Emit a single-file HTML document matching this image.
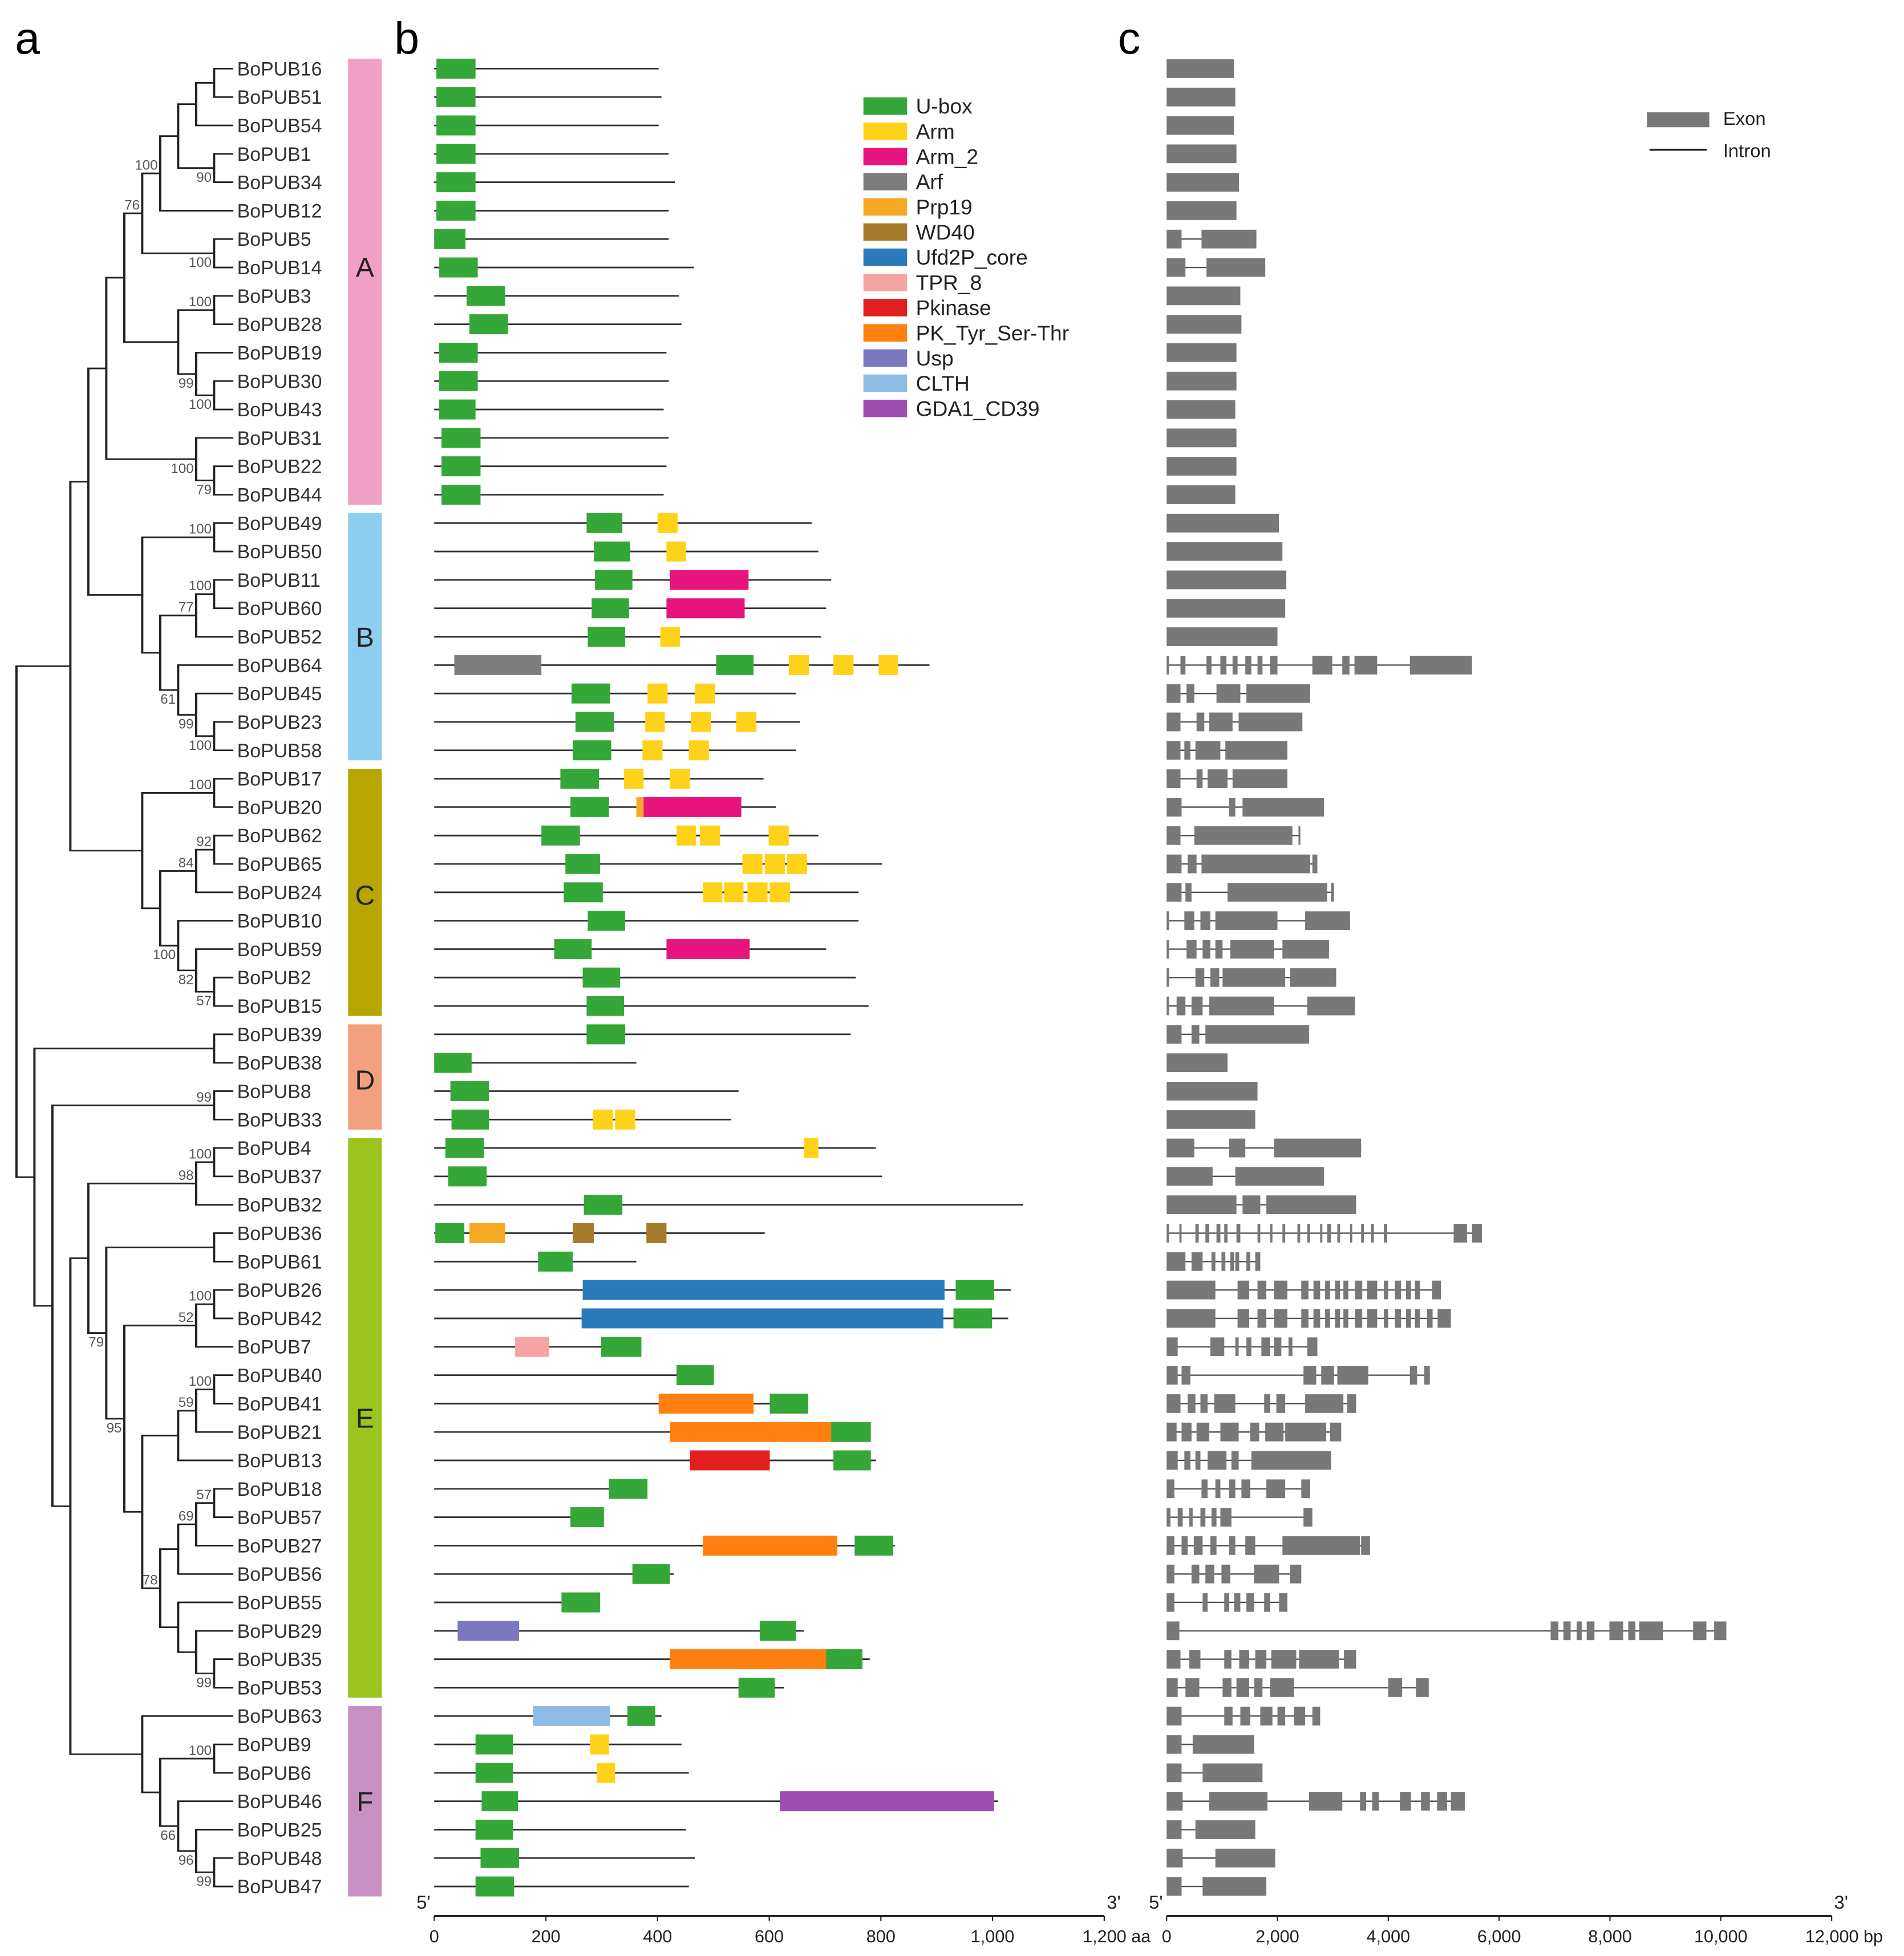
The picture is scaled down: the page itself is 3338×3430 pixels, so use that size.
<!DOCTYPE html>
<html><head><meta charset="utf-8"><style>
html,body{margin:0;padding:0;background:#fff}
svg{display:block}
text{font-family:"Liberation Sans",sans-serif}
</style></head><body>
<svg id="fig" width="3338" height="3430" viewBox="0 0 1526 1568" xmlns="http://www.w3.org/2000/svg">
<rect width="1526" height="1568" fill="#fff"/>
<text x="12" y="43" font-size="36">a</text>
<text x="316" y="43" font-size="36">b</text>
<text x="896" y="43" font-size="36">c</text>
<g id="tree"></g>
<g id="labels"></g>
<g id="groups"></g>
<g id="motifs"></g>
<g id="genes"></g>
<g id="legend"></g>
<g id="axes"></g>
</svg>
<script>
const geneNames=["BoPUB16","BoPUB51","BoPUB54","BoPUB1","BoPUB34","BoPUB12","BoPUB5","BoPUB14","BoPUB3","BoPUB28","BoPUB19","BoPUB30","BoPUB43","BoPUB31","BoPUB22","BoPUB44","BoPUB49","BoPUB50","BoPUB11","BoPUB60","BoPUB52","BoPUB64","BoPUB45","BoPUB23","BoPUB58","BoPUB17","BoPUB20","BoPUB62","BoPUB65","BoPUB24","BoPUB10","BoPUB59","BoPUB2","BoPUB15","BoPUB39","BoPUB38","BoPUB8","BoPUB33","BoPUB4","BoPUB37","BoPUB32","BoPUB36","BoPUB61","BoPUB26","BoPUB42","BoPUB7","BoPUB40","BoPUB41","BoPUB21","BoPUB13","BoPUB18","BoPUB57","BoPUB27","BoPUB56","BoPUB55","BoPUB29","BoPUB35","BoPUB53","BoPUB63","BoPUB9","BoPUB6","BoPUB46","BoPUB25","BoPUB48","BoPUB47"];
const groupNames=["A","B","C","D","E","F"];
const groupStart=[0,16,25,34,38,58];
const groupEnd=[15,24,33,37,57,64];
const groupLabelOffset=[-12,0,2,2,0,0];
const groupColors=["#f0a0c4","#8ccdf0","#b8a600","#f2a080","#9bc41f","#c78fc2"];
const proteinLen=[402,407,402,420,431,420,420,465,438,443,416,420,411,420,416,411,676,688,711,702,693,887,648,655,648,590,612,688,802,760,760,702,755,778,746,362,545,532,791,802,1055,592,362,1033,1028,371,501,670,782,791,380,304,825,429,295,662,780,626,407,443,456,1010,451,467,456];
const domains=[
[["U",4,74]],[["U",4,74]],[["U",4,74]],[["U",4,74]],[["U",4,74]],[["U",4,74]],[["U",0,56]],[["U",9,78]],[["U",58,127]],[["U",63,132]],[["U",9,78]],[["U",9,78]],[["U",9,74]],[["U",13,83]],[["U",13,83]],[["U",13,83]],
[["U",273,337],["Arm",400,436]],
[["U",286,351],["Arm",416,451]],
[["U",288,355],["Arm_2",422,563]],
[["U",282,349],["Arm_2",416,556]],
[["U",275,342],["Arm",405,440]],
[["Arf",36,192],["U",505,572],["Arm",635,671],["Arm",715,751],["Arm",796,831]],
[["U",246,315],["Arm",382,418],["Arm",467,503]],
[["U",253,322],["Arm",378,413],["Arm",460,496],["Arm",541,577]],
[["U",248,317],["Arm",373,409],["Arm",456,492]],
[["U",226,295],["Arm",340,375],["Arm",422,458]],
[["U",244,313],["Prp19",362,375],["Arm_2",375,550]],
[["U",192,261],["Arm",434,469],["Arm",476,512],["Arm",599,635]],
[["U",235,297],["Arm",552,588],["Arm",592,628],["Arm",632,668]],
[["U",232,302],["Arm",481,516],["Arm",519,554],["Arm",561,597],["Arm",601,637]],
[["U",275,342]],
[["U",215,282],["Arm_2",416,565]],
[["U",266,333]],
[["U",273,340]],
[["U",273,342]],
[["U",0,67]],
[["U",29,98]],
[["U",31,98],["Arm",284,320],["Arm",324,360]],
[["U",20,89],["Arm",662,688]],
[["U",25,94]],
[["U",268,337]],
[["U",2,54],["Prp19",63,127],["WD40",248,286],["WD40",380,416]],
[["U",186,248]],
[["Ufd2P",266,914],["U",934,1003]],
[["Ufd2P",264,912],["U",930,999]],
[["TPR",145,206],["U",299,371]],
[["U",434,501]],
[["PK",402,572],["U",601,670]],
[["PK",422,742],["U",711,782]],
[["Pkinase",458,601],["U",715,782]],
[["U",313,382]],
[["U",244,304]],
[["PK",481,722],["U",753,822]],
[["U",355,422]],
[["U",228,297]],
[["Usp",42,152],["U",583,648]],
[["PK",422,733],["U",702,767]],
[["U",545,610]],
[["CLTH",177,315],["U",346,396]],
[["U",74,141],["Arm",279,313]],
[["U",74,141],["Arm",291,324]],
[["U",85,150],["GDA1",619,1003]],
[["U",74,141]],
[["U",83,152]],
[["U",74,143]]
];
const exons=[
[[0,1215]],[[0,1240]],[[0,1215]],[[0,1260]],[[0,1305]],[[0,1260]],[[0,270],[630,1620]],[[0,340],[720,1780]],[[0,1330]],[[0,1350]],[[0,1260]],[[0,1260]],[[0,1240]],[[0,1260]],[[0,1260]],[[0,1240]],
[[0,2025]],[[0,2090]],[[0,2160]],[[0,2140]],[[0,2000]],
[[0,45],[250,340],[720,810],[970,1080],[1190,1280],[1420,1530],[1640,1730],[1870,2000],[2630,2990],[3170,3300],[3390,3800],[4390,5510]],
[[0,250],[360,500],[900,1330],[1440,2590]],
[[0,250],[540,680],[770,1190],[1300,2450]],
[[0,250],[320,430],[520,970],[1060,2180]],
[[0,250],[540,650],[740,1100],[1190,2180]],
[[0,270],[1130,1240],[1370,2840]],
[[0,250],[500,2270],[2380,2400]],
[[0,270],[380,540],[630,2590],[2630,2720]],
[[0,270],[340,450],[1100,2900],[2970,3020]],
[[0,45],[320,500],[610,790],[880,2000],[2500,3310]],
[[0,45],[360,540],[650,790],[880,1010],[1150,1940],[2090,2930]],
[[0,45],[520,680],[790,950],[1010,2140],[2230,3060]],
[[0,45],[180,340],[450,650],[770,1940],[2540,3400]],
[[0,270],[450,590],[700,2570]],
[[0,1100]],[[0,1640]],[[0,1600]],
[[0,500],[1130,1420],[1940,3510]],
[[0,830],[1240,2840]],
[[0,1260],[1370,1690],[1800,3420]],
[[0,45],[230,270],[520,580],[700,770],[900,970],[1040,1100],[1260,1330],[1640,1690],[1870,1910],[2090,2140],[2360,2410],[2540,2590],[2770,2810],[2900,2970],[3080,3130],[3310,3350],[3510,3560],[3690,3740],[3920,3980],[5180,5420],[5510,5690]],
[[0,340],[450,650],[810,880],[990,1060],[1150,1220],[1240,1310],[1440,1510],[1600,1690]],
[[0,880],[1280,1490],[1640,1800],[1940,2180],[2430,2560],[2650,2770],[2860,2950],[3040,3130],[3190,3280],[3400,3530],[3620,3800],[3920,4000],[4120,4230],[4320,4410],[4480,4570],[4790,4950]],
[[0,880],[1280,1490],[1640,1800],[1940,2180],[2430,2560],[2650,2770],[2860,2950],[3040,3130],[3190,3280],[3400,3530],[3620,3800],[3920,4000],[4120,4230],[4320,4410],[4480,4570],[4700,4800],[4890,5130]],
[[0,200],[790,1040],[1240,1300],[1440,1530],[1710,1870],[1940,2070],[2200,2270],[2540,2720]],
[[0,200],[270,430],[2470,2700],[2790,3020],[3080,3640],[4390,4520],[4650,4750]],
[[0,250],[380,520],[610,740],[860,1240],[1760,1870],[1980,2140],[2500,3190],[3260,3420]],
[[0,180],[270,450],[540,770],[970,1300],[1510,1670],[1780,2110],[2140,2880],[2950,3150]],
[[0,200],[320,430],[520,610],[740,1080],[1170,1300],[1530,2970]],
[[0,140],[630,740],[880,970],[1130,1240],[1350,1510],[1800,2140],[2430,2590]],
[[0,70],[200,290],[410,470],[610,700],[810,900],[970,1170],[2470,2630]],
[[0,140],[270,380],[490,650],[790,900],[1130,1240],[1420,1600],[2090,3490],[3510,3670]],
[[0,140],[450,590],[700,860],[990,1150],[1580,2030],[2230,2430]],
[[0,140],[650,740],[1040,1130],[1220,1330],[1440,1580],[1760,1870],[2030,2180]],
[[0,230],[6930,7070],[7160,7290],[7400,7490],[7580,7720],[7990,8240],[8330,8460],[8530,8960],[9500,9740],[9880,10100]],
[[0,250],[410,610],[1040,1170],[1310,1490],[1600,1800],[1890,2340],[2390,3110],[3200,3420]],
[[0,200],[340,590],[1010,1170],[1260,1490],[1580,1730],[1870,2300],[4000,4250],[4500,4730]],
[[0,270],[1040,1190],[1330,1510],[1690,1910],[2000,2140],[2300,2500],[2630,2770]],
[[0,270],[470,1580]],
[[0,270],[650,1730]],
[[0,290],[770,1820],[2570,3170],[3490,3600],[3710,3830],[4210,4410],[4590,4750],[4880,5060],[5130,5380]],
[[0,270],[520,1600]],
[[0,290],[880,1960]],
[[0,270],[650,1800]]
];
const aaTicks=[0,200,400,600,800,1000,1200];
const aaTickLabels=["0","200","400","600","800","1,000","1,200"];
const bpTicks=[0,2000,4000,6000,8000,10000,12000];
const bpTickLabels=["0","2,000","4,000","6,000","8,000","10,000","12,000"];
const legendKeys=["U","Arm","Arm_2","Arf","Prp19","WD40","Ufd2P","TPR","Pkinase","PK","Usp","CLTH","GDA1"];
const legendLabels=["U-box","Arm","Arm_2","Arf","Prp19","WD40","Ufd2P_core","TPR_8","Pkinase","PK_Tyr_Ser-Thr","Usp","CLTH","GDA1_CD39"];
const domainColors={U:"#35a638",Arm:"#ffd21a",Arm_2:"#e8147e",Arf:"#7d7d7d",Prp19:"#f7a825",WD40:"#a67b2c",Ufd2P:"#2b7bbb",TPR:"#f5a3a3",Pkinase:"#e01f1f",PK:"#ff7f10",Usp:"#7b76c0",CLTH:"#8dbbe3",GDA1:"#9c4fb0"};
const N=(L,c,bs,p)=>({L,c,bs,p});
const a1=N(1,[0,1]),a2=N(2,[a1,2]),a3=N(1,[3,4],"90","b"),a4=N(3,[a2,a3]),a5=N(4,[a4,5],"100","a"),a6=N(1,[6,7],"100","b"),a7=N(5,[a5,a6],"76","a");
const a8=N(1,[8,9],"100","a"),a9=N(1,[11,12],"100","b"),a10=N(2,[10,a9],"99","b"),a11=N(3,[a8,a10]),a12=N(6,[a7,a11]);
const a13=N(1,[14,15],"79","b"),a14=N(2,[13,a13],"100","b"),cladeA=N(7,[a12,a14]);
const b1=N(1,[16,17],"100","a"),b2=N(1,[18,19],"100","a"),b3=N(2,[b2,20],"77","a"),b4=N(1,[23,24],"100","b"),b5=N(2,[22,b4],"99","b"),b6=N(3,[21,b5],"61","b"),b7=N(4,[b3,b6]),cladeB=N(5,[b1,b7]);
const AB=N(8,[cladeA,cladeB]);
const c1=N(1,[25,26],"100","a"),c2=N(1,[27,28],"92","a"),c3=N(2,[c2,29],"84","a"),c4=N(1,[32,33],"57","b"),c5=N(2,[31,c4],"82","b"),c6=N(3,[30,c5],"100","b"),c7=N(4,[c3,c6]),cladeC=N(5,[c1,c7]);
const ABC=N(9,[AB,cladeC]);
const d1=N(1,[34,35]),d2=N(1,[36,37],"99","a");
const e1=N(1,[38,39],"100","a"),e2=N(2,[e1,40],"98","a"),e3=N(1,[41,42]),e4=N(1,[43,44],"100","a"),e5=N(2,[e4,45],"52","a"),e6=N(1,[46,47],"100","a"),e7=N(2,[e6,48],"59","a"),e8=N(3,[e7,49]),e9=N(1,[50,51],"57","a"),e10=N(2,[e9,52],"69","a"),e11=N(3,[e10,53]),e12=N(1,[56,57],"99","b"),e13=N(2,[55,e12]),e14=N(3,[54,e13]),e15=N(4,[e11,e14],"78","a"),e16=N(5,[e8,e15]),e17=N(6,[e5,e16],"95","b"),e18=N(7,[e3,e17],"79","b"),cladeE=N(8,[e2,e18]);
const f1=N(1,[63,64],"99","b"),f2=N(2,[62,f1],"96","b"),f3=N(3,[61,f2],"66","b"),f4=N(1,[59,60],"100","a"),f5=N(4,[f4,f3]),cladeF=N(5,[58,f5]);
const EF=N(9,[cladeE,cladeF]),DEF=N(10,[d2,EF]),DEF2=N(11,[d1,DEF]),treeRoot=N(12,[ABC,DEF2]);

const NS="http://www.w3.org/2000/svg";
function mk(tag,attrs,parent){const e=document.createElementNS(NS,tag);for(const k in attrs)e.setAttribute(k,attrs[k]);parent.appendChild(e);return e;}
const rowY=i=>55+i*22.77;
const levelX=L=>186-14.4*L;
const leafX=187;
const aaX=v=>348+v*(537/1200);
const bpX=v=>935+v*(533/12000);

const tree=document.getElementById("tree");
function drawNode(n){
  if(typeof n==="number")return {y:rowY(n),x:leafX};
  const x=levelX(n.L);
  const ch=n.c.map(drawNode);
  const ys=ch.map(c=>c.y);
  const v=mk("line",{x1:x,x2:x,y1:Math.min(...ys),y2:Math.max(...ys),stroke:"#222","stroke-width":1.8},tree);
  
  
  ch.forEach(c=>{const h=mk("line",{x1:x-0.9,x2:c.x,y1:c.y,y2:c.y,stroke:"#222","stroke-width":1.3},tree);
    
    });
  const y=(Math.min(...ys)+Math.max(...ys))/2;
  if(n.bs){const t=mk("text",{x:x-2,y:n.p==="a"?y-3:y+11,"font-size":11,fill:"#555","text-anchor":"end"},tree);t.textContent=n.bs;
    
    }
  return {y,x};
}
drawNode(treeRoot);

const labels=document.getElementById("labels");
geneNames.forEach((g,i)=>{const t=mk("text",{x:190,y:rowY(i)+5.5,"font-size":15.5,fill:"#333"},labels);t.textContent=g;
  
  });

const groups=document.getElementById("groups");
groupNames.forEach((g,i)=>{const y1=rowY(groupStart[i])-8,y2=rowY(groupEnd[i])+8;
  const r=mk("rect",{x:279,y:y1,width:27,height:y2-y1,fill:groupColors[i]},groups);
  
  
  const t=mk("text",{x:292.5,y:(y1+y2)/2+8+groupLabelOffset[i],"font-size":22,"text-anchor":"middle",fill:"#222"},groups);t.textContent=g;
  
  });

const motifs=document.getElementById("motifs");
proteinLen.forEach((len,i)=>{const y=rowY(i);
  const l=mk("line",{x1:aaX(0),x2:aaX(len),y1:y,y2:y,stroke:"#333","stroke-width":1.3},motifs);
  
  
  domains[i].forEach(d=>{const r=mk("rect",{x:aaX(d[1]),y:y-8,width:aaX(d[2])-aaX(d[1]),height:16,fill:domainColors[d[0]]},motifs);
    
    });
});

const genes=document.getElementById("genes");
exons.forEach((ex,i)=>{const y=rowY(i);const end=ex[ex.length-1][1];
  if(ex.length>1){const l=mk("line",{x1:bpX(0),x2:bpX(end),y1:y,y2:y,stroke:"#555","stroke-width":1.1},genes);
    
    }
  ex.forEach(e=>{const r=mk("rect",{x:bpX(e[0]),y:y-7.5,width:Math.max(1.5,bpX(e[1])-bpX(e[0])),height:15,fill:"#787878"},genes);
    
    });
});

const legend=document.getElementById("legend");
legendKeys.forEach((k,i)=>{const y=85+i*20.2;
  const r=mk("rect",{x:692,y:y-7,width:35,height:14,fill:domainColors[k]},legend);
  
  
  const t=mk("text",{x:734,y:y+6,"font-size":17,fill:"#222"},legend);t.textContent=legendLabels[i];
  
  });
{const r=mk("rect",{x:1320,y:90,width:50,height:12,fill:"#787878"},legend);
 
 
 const t=mk("text",{x:1381,y:100,"font-size":15,fill:"#222"},legend);t.textContent="Exon";
 
 
 const l=mk("line",{x1:1322,x2:1368,y1:120,y2:120,stroke:"#222","stroke-width":1.5},legend);
 
 
 const t2=mk("text",{x:1381,y:126,"font-size":15,fill:"#222"},legend);t2.textContent="Intron";
 
 }

const axes=document.getElementById("axes");
function axis(fx,ticks,labs,unit,name){
  const y=1536;
  const l=mk("line",{x1:fx(ticks[0]),x2:fx(ticks[ticks.length-1]),y1:y,y2:y,stroke:"#222","stroke-width":1.8},axes);
  
  
  ticks.forEach((v,i)=>{const tk=mk("line",{x1:fx(v),x2:fx(v),y1:y,y2:y+4,stroke:"#222","stroke-width":1},axes);
    
    
    const t=mk("text",{x:fx(v),y:1557,"font-size":14,"text-anchor":"middle",fill:"#222"},axes);
    t.textContent=labs[i]+(i===ticks.length-1?" "+unit:"");
    if(i===ticks.length-1)t.setAttribute("x",fx(v)+10);
    
    });
  const s=mk("text",{x:fx(ticks[0])-3,y:1530,"font-size":15,"text-anchor":"end",fill:"#222"},axes);s.textContent="5'";
  
  
  const e=mk("text",{x:fx(ticks[ticks.length-1])+2,y:1530,"font-size":15,fill:"#222"},axes);e.textContent="3'";
  
  
}
axis(aaX,aaTicks,aaTickLabels,"aa","aa-axis");
axis(bpX,bpTicks,bpTickLabels,"bp","bp-axis");
</script>
</body></html>
